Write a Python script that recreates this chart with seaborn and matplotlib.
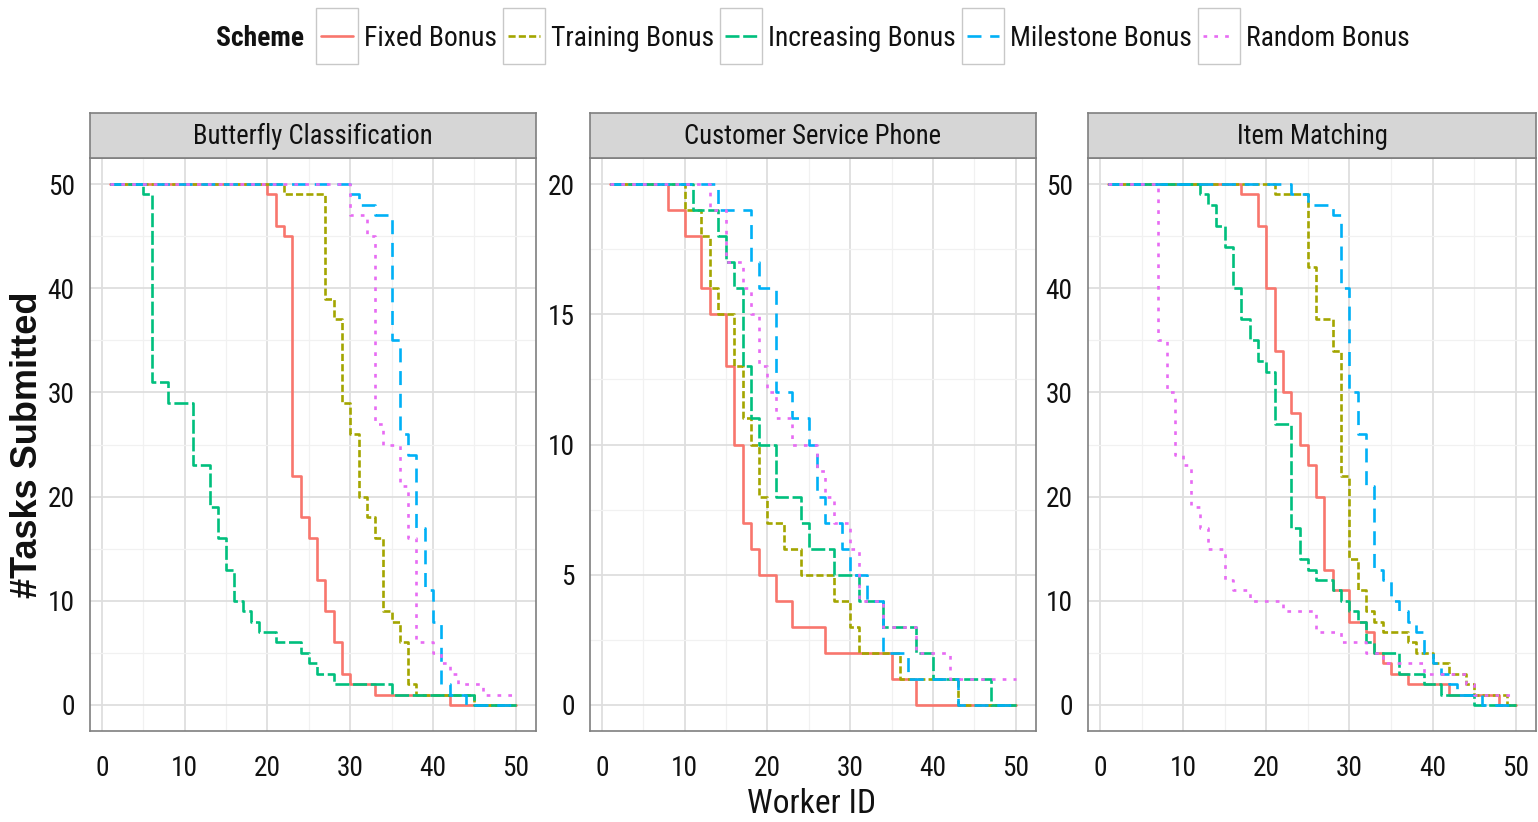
import matplotlib
matplotlib.use("Agg")
import matplotlib.pyplot as plt
import pandas as pd
import seaborn as sns
from matplotlib import font_manager as fm
from matplotlib.font_manager import FontProperties
from matplotlib.lines import Line2D
from matplotlib.patches import Rectangle
from matplotlib.ticker import MultipleLocator

# ---------------- data ----------------
WORKERS = list(range(1, 51))
SCHEMES = ["Fixed Bonus", "Training Bonus", "Increasing Bonus", "Milestone Bonus", "Random Bonus"]
PANELS = ["Butterfly Classification", "Customer Service Phone", "Item Matching"]

BF_FIXED = [50, 50, 50, 50, 50, 50, 50, 50, 50, 50,
            50, 50, 50, 50, 50, 50, 50, 50, 50, 49,
            46, 45, 22, 18, 16, 12, 9, 6, 3, 2,
            2, 2, 1, 1, 1, 1, 1, 1, 1, 1,
            1, 0, 0, 0, 0, 0, 0, 0, 0, 0]
BF_TRAINING = [50, 50, 50, 50, 50, 50, 50, 50, 50, 50,
               50, 50, 50, 50, 50, 50, 50, 50, 50, 50,
               50, 49, 49, 49, 49, 49, 39, 37, 29, 26,
               20, 18, 16, 9, 8, 6, 2, 1, 1, 1,
               1, 1, 1, 1, 0, 0, 0, 0, 0, 0]
BF_INCREASING = [50, 50, 50, 50, 49, 31, 31, 29, 29, 29,
                 23, 23, 19, 16, 13, 10, 9, 8, 7, 7,
                 6, 6, 6, 5, 4, 3, 3, 2, 2, 2,
                 2, 2, 2, 2, 1, 1, 1, 1, 1, 1,
                 1, 1, 1, 1, 0, 0, 0, 0, 0, 0]
BF_MILESTONE = [50, 50, 50, 50, 50, 50, 50, 50, 50, 50,
                50, 50, 50, 50, 50, 50, 50, 50, 50, 50,
                50, 50, 50, 50, 50, 50, 50, 50, 50, 49,
                48, 48, 47, 47, 35, 26, 24, 17, 11, 8,
                2, 1, 1, 0, 0, 0, 0, 0, 0, 0]
BF_RANDOM = [50, 50, 50, 50, 50, 50, 50, 50, 50, 50,
             50, 50, 50, 50, 50, 50, 50, 50, 50, 50,
             50, 50, 50, 50, 50, 50, 50, 50, 50, 47,
             47, 45, 27, 25, 25, 21, 16, 6, 6, 5,
             4, 3, 2, 2, 2, 1, 1, 1, 1, 1]

CS_FIXED = [20, 20, 20, 20, 20, 20, 20, 19, 19, 18,
            18, 16, 15, 15, 13, 10, 7, 6, 5, 5,
            4, 4, 3, 3, 3, 3, 2, 2, 2, 2,
            2, 2, 2, 2, 1, 1, 1, 0, 0, 0,
            0, 0, 0, 0, 0, 0, 0, 0, 0, 0]
CS_TRAINING = [20, 20, 20, 20, 20, 20, 20, 20, 20, 19,
               19, 18, 16, 15, 15, 13, 11, 10, 8, 7,
               7, 6, 6, 5, 5, 5, 5, 4, 4, 3,
               2, 2, 2, 2, 2, 1, 1, 1, 1, 1,
               1, 1, 0, 0, 0, 0, 0, 0, 0, 0]
CS_INCREASING = [20, 20, 20, 20, 20, 20, 20, 20, 20, 20,
                 19, 19, 19, 18, 17, 16, 13, 11, 10, 10,
                 8, 8, 8, 7, 6, 6, 6, 5, 5, 5,
                 4, 4, 4, 3, 3, 3, 3, 2, 2, 1,
                 1, 1, 1, 1, 1, 1, 0, 0, 0, 0]
CS_MILESTONE = [20, 20, 20, 20, 20, 20, 20, 20, 20, 20,
                20, 20, 20, 19, 19, 19, 19, 17, 16, 16,
                12, 12, 11, 11, 10, 8, 7, 7, 6, 5,
                5, 4, 4, 2, 2, 2, 1, 1, 1, 1,
                1, 1, 0, 0, 0, 0, 0, 0, 0, 0]
CS_RANDOM = [20, 20, 20, 20, 20, 20, 20, 20, 20, 20,
             20, 20, 19, 19, 17, 17, 16, 15, 13, 12,
             11, 11, 10, 10, 10, 9, 8, 7, 7, 6,
             4, 4, 4, 3, 3, 3, 3, 2, 2, 2,
             2, 1, 1, 1, 1, 1, 1, 1, 1, 1]

IM_FIXED = [50, 50, 50, 50, 50, 50, 50, 50, 50, 50,
            50, 50, 50, 50, 50, 50, 49, 49, 46, 40,
            34, 30, 28, 25, 23, 20, 13, 11, 11, 8,
            8, 7, 5, 4, 3, 3, 2, 2, 2, 2,
            2, 1, 1, 1, 1, 1, 1, 0, 0, 0]
IM_TRAINING = [50, 50, 50, 50, 50, 50, 50, 50, 50, 50,
               50, 50, 50, 50, 50, 50, 50, 50, 50, 50,
               49, 49, 49, 49, 42, 37, 37, 34, 22, 14,
               11, 9, 8, 7, 7, 7, 6, 5, 5, 4,
               4, 3, 3, 2, 1, 1, 1, 1, 0, 0]
IM_INCREASING = [50, 50, 50, 50, 50, 50, 50, 50, 50, 50,
                 50, 49, 48, 46, 44, 40, 37, 35, 33, 32,
                 27, 27, 17, 14, 13, 12, 12, 11, 10, 9,
                 8, 6, 5, 5, 5, 3, 3, 3, 2, 2,
                 1, 1, 1, 1, 0, 0, 0, 0, 0, 0]
IM_MILESTONE = [50, 50, 50, 50, 50, 50, 50, 50, 50, 50,
                50, 50, 50, 50, 50, 50, 50, 50, 50, 50,
                50, 50, 49, 49, 48, 48, 48, 47, 40, 30,
                26, 21, 13, 12, 10, 9, 8, 7, 5, 4,
                3, 2, 1, 1, 1, 0, 0, 0, 0, 0]
IM_RANDOM = [50, 50, 50, 50, 50, 50, 35, 30, 24, 23,
             19, 17, 15, 15, 12, 11, 11, 10, 10, 10,
             10, 9, 9, 9, 9, 7, 7, 7, 6, 6,
             6, 5, 5, 4, 4, 4, 4, 4, 3, 3,
             3, 3, 3, 2, 1, 1, 1, 1, 1, 1]

X_TICKS = [0, 10, 20, 30, 40, 50]
Y_TICKS = {PANELS[0]: [0, 10, 20, 30, 40, 50],
           PANELS[1]: [0, 5, 10, 15, 20],
           PANELS[2]: [0, 10, 20, 30, 40, 50]}

SERIES = {
    PANELS[0]: [BF_FIXED, BF_TRAINING, BF_INCREASING, BF_MILESTONE, BF_RANDOM],
    PANELS[1]: [CS_FIXED, CS_TRAINING, CS_INCREASING, CS_MILESTONE, CS_RANDOM],
    PANELS[2]: [IM_FIXED, IM_TRAINING, IM_INCREASING, IM_MILESTONE, IM_RANDOM],
}

rows = []
for panel, lists in SERIES.items():
    for scheme, vals in zip(SCHEMES, lists):
        for w, v in zip(WORKERS, vals):
            rows.append({"Task": panel, "Scheme": scheme, "Worker": w, "Tasks": v})
df = pd.DataFrame(rows)

# ---------------- style ----------------
PALETTE = dict(zip(SCHEMES, ["#F8766D", "#A3A500", "#00BF7D", "#00B0F6", "#E76BF3"]))
DASHES = dict(zip(SCHEMES, ["", (2.7, 1.2), (5.3, 1.4), (5.3, 3.3), (1.4, 2.7)]))
LW = 1.9

sns.set_theme(style="white")


def _wnum(w):
    if isinstance(w, (int, float)):
        return int(w)
    return fm.weight_dict.get(str(w).lower(), 400)


def _is_condensed(f):
    s = f.stretch
    n = (f.name + " " + f.fname).lower()
    if "narrow" in n or "condensed" in n:
        return True
    if isinstance(s, str):
        return "condensed" in s
    try:
        return int(s) < 100
    except Exception:
        return False


def find_font(bold):
    prefs = ["liberation", "arimo", "roboto", "noto sans", "open sans", "lato", "dejavu sans"]
    cands = [f for f in fm.fontManager.ttflist
             if _is_condensed(f) and f.style == "normal"
             and "mono" not in f.name.lower() and "serif" not in f.name.lower()
             and "cjk" not in f.name.lower()
             and (_wnum(f.weight) >= 600) == bold
             and 300 <= _wnum(f.weight) <= 800]

    def rank(f):
        nm = f.name.lower()
        for i, p in enumerate(prefs):
            if p in nm:
                return (i, abs(_wnum(f.weight) - (700 if bold else 400)))
        return (len(prefs), abs(_wnum(f.weight) - (700 if bold else 400)))
    if cands:
        cands.sort(key=rank)
        return FontProperties(fname=cands[0].fname)
    names = {f.name for f in fm.fontManager.ttflist}
    fam = "Liberation Sans" if "Liberation Sans" in names else "DejaVu Sans"
    return FontProperties(family=fam, weight="bold" if bold else "normal")


FP_REG = find_font(False)
FP_BOLD = find_font(True)
names = {f.name for f in fm.fontManager.ttflist}
WIDE = "Liberation Sans" if "Liberation Sans" in names else "DejaVu Sans"
plt.rcParams["font.family"] = [WIDE, "DejaVu Sans"]

W, H = 1538, 822
fig = plt.figure(figsize=(W / 100, H / 100), dpi=100, facecolor="white")
renderer = fig.canvas.get_renderer()


def fp(base, size):
    p = base.copy()
    p.set_size(size)
    return p


def text_width(s, prop):
    t = fig.text(0, 0, s, fontproperties=prop)
    w = t.get_window_extent(renderer).width
    t.remove()
    return w


def fit_size(strings, target, base, ref=20.0):
    tot = sum(text_width(s, fp(base, ref)) for s in strings)
    return ref * target / tot


# sizes fitted to the widths
TICK_SIZE = min(23.0, fit_size(["50", "50"], 54, FP_REG))
STRIP_SIZE = min(24.0, fit_size(["Butterfly Classification"], 239, FP_REG))
XLAB_SIZE = min(28.0, fit_size(["Worker ID"], 129, FP_REG))


def px_rect(l, t, r, b):
    return [l / W, (H - b) / H, (r - l) / W, (b - t) / H]


PANEL_X = [(90, 536), (590, 1036), (1088, 1536)]
TOP, BOTTOM, STRIP_TOP = 158, 731, 113
BORDER = "#7F7F7F"

for (l, r), panel in zip(PANEL_X, PANELS):
    ax = fig.add_axes(px_rect(l, TOP, r, BOTTOM))
    sub = df[df["Task"] == panel]
    sns.lineplot(data=sub, x="Worker", y="Tasks", hue="Scheme", style="Scheme",
                 hue_order=SCHEMES, style_order=SCHEMES, palette=PALETTE,
                 dashes=DASHES, drawstyle="steps-post", linewidth=LW,
                 errorbar=None, legend=False, ax=ax)
    ymax = max(Y_TICKS[panel])
    ax.set_xlim(-1.45, 52.45)
    ax.set_ylim(-0.05 * ymax, 1.05 * ymax)
    ax.set_xticks(X_TICKS)
    ax.set_yticks(Y_TICKS[panel])
    ax.xaxis.set_minor_locator(MultipleLocator(5))
    ax.yaxis.set_minor_locator(MultipleLocator((Y_TICKS[panel][1] - Y_TICKS[panel][0]) / 2))
    ax.set_axisbelow(True)
    ax.grid(True, which="major", color="#DEDEDE", lw=1.3)
    ax.grid(True, which="minor", color="#F1F1F1", lw=0.9)
    ax.set_facecolor("white")
    for s in ax.spines.values():
        s.set_color(BORDER)
        s.set_linewidth(1.2)
    ax.tick_params(which="major", direction="out", length=5, width=1.0, color="#333333",
                   labelcolor="#111111")
    ax.tick_params(axis="x", which="major", pad=12)
    ax.tick_params(axis="y", which="major", pad=6)
    ax.tick_params(which="minor", length=0)
    for lab in ax.get_xticklabels() + ax.get_yticklabels():
        lab.set_fontproperties(fp(FP_REG, TICK_SIZE))
    ax.set_xlabel("")
    ax.set_ylabel("")

    sax = fig.add_axes(px_rect(l, STRIP_TOP, r, TOP))
    sax.set_facecolor("#D6D6D6")
    sax.set_xticks([])
    sax.set_yticks([])
    for s in sax.spines.values():
        s.set_color(BORDER)
        s.set_linewidth(1.2)
    sax.text(0.5, 0.47, panel, ha="center", va="center", fontproperties=fp(FP_REG, STRIP_SIZE),
             color="#111111", transform=sax.transAxes)

fig.text(28 / W, 1 - 445 / H, "#Tasks Submitted", rotation=90, ha="center", va="center",
         fontsize=26, fontweight="bold", family=[WIDE, "DejaVu Sans"], color="#111111")
fig.text(812 / W, 1 - 804 / H, "Worker ID", ha="center", va="center",
         fontproperties=fp(FP_REG, XLAB_SIZE), color="#111111")

# ---------------- legend (top, horizontal, ggplot-like key boxes) ----------------
LEG_Y = 38          # px from top, centre line of text
BOX_W, BOX_T, BOX_B = 42, 8, 64
GAP_T, GAP_L, GAP_N = 12, 6, 6
fixed = GAP_T + len(SCHEMES) * (BOX_W + GAP_L) + GAP_N * (len(SCHEMES) - 1)
ref_sz = 20.0
tot = text_width("Scheme", fp(FP_BOLD, ref_sz)) + sum(text_width(s, fp(FP_REG, ref_sz)) for s in SCHEMES)
LEG_SIZE = min(23.0, ref_sz * (1194 - fixed) / tot)

title = fig.text(0, 1 - LEG_Y / H, "Scheme", ha="left", va="center",
                 fontproperties=fp(FP_BOLD, LEG_SIZE), color="#111111")
labels = [fig.text(0, 1 - LEG_Y / H, s, ha="left", va="center",
                   fontproperties=fp(FP_REG, LEG_SIZE), color="#111111") for s in SCHEMES]
tw = title.get_window_extent(renderer).width
lws = [t.get_window_extent(renderer).width for t in labels]
total = tw + fixed + sum(lws)
x = 813 - total / 2
title.set_x(x / W)
x += tw + GAP_T
for scheme, lab, w in zip(SCHEMES, labels, lws):
    fig.add_artist(Rectangle((x / W, 1 - BOX_B / H), BOX_W / W, (BOX_B - BOX_T) / H,
                             transform=fig.transFigure, facecolor="white",
                             edgecolor="#C8C8C8", lw=1.0))
    ln = Line2D([(x + 5) / W, (x + BOX_W - 5) / W], [1 - 36 / H] * 2,
                transform=fig.transFigure, color=PALETTE[scheme], lw=LW)
    if DASHES[scheme]:
        ln.set_dashes(DASHES[scheme])
    fig.add_artist(ln)
    x += BOX_W + GAP_L
    lab.set_x(x / W)
    x += w + GAP_N

fig.savefig("out.png", dpi=100, facecolor="white")
